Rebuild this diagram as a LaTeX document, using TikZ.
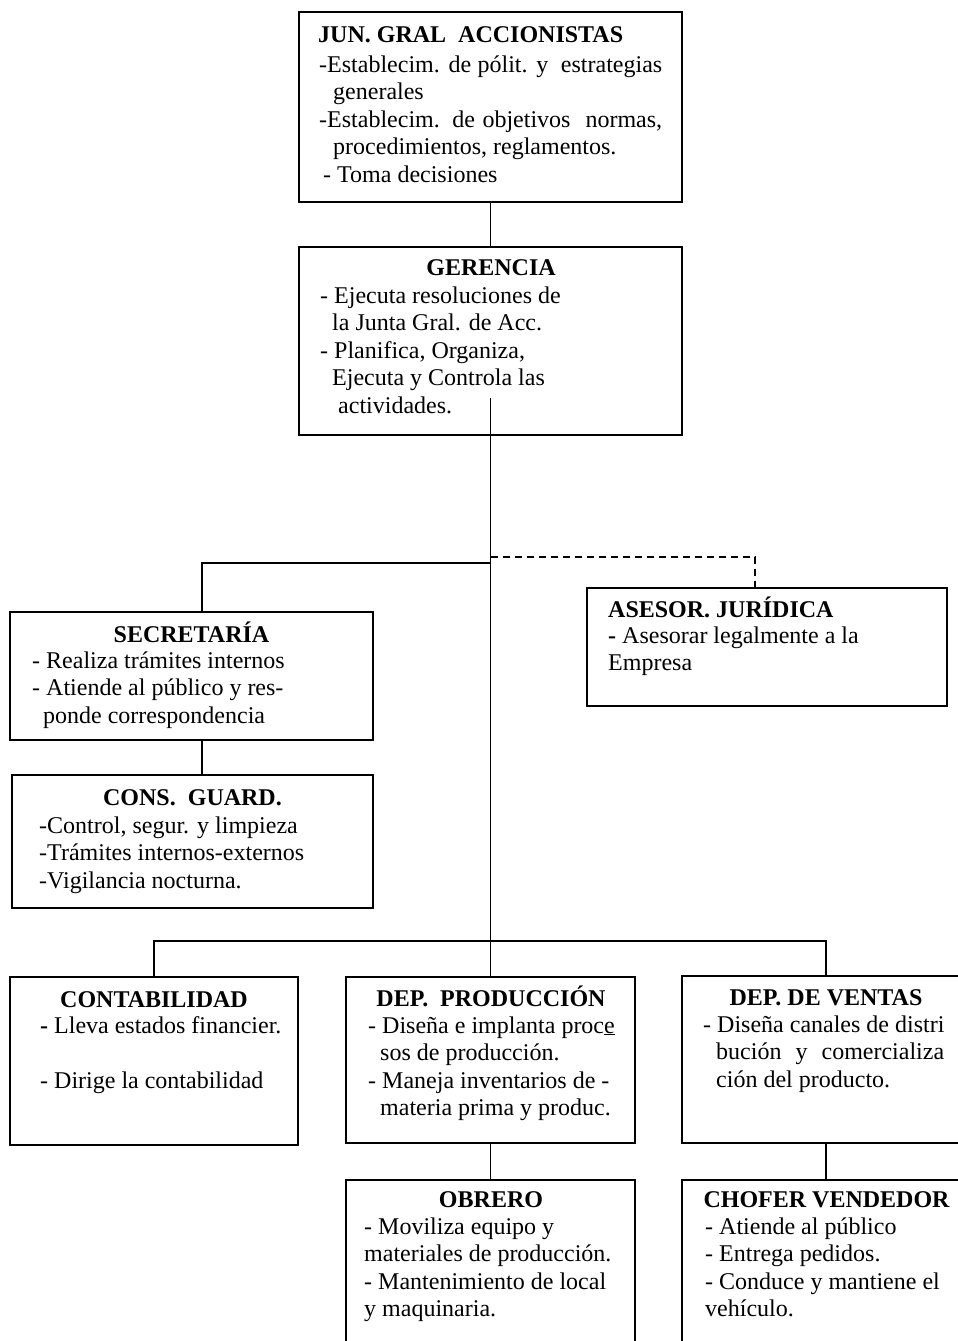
\documentclass[tikz,border=0pt]{standalone}
\usepackage{fontspec}
\setmainfont{Liberation Serif}
\begin{document}
\begin{tikzpicture}[x=1pt,y=-1pt,
  font=\fontsize{24}{27.5}\selectfont,
  box/.style={draw, line width=1.5pt, rectangle, inner sep=0pt, outer sep=0pt, anchor=north west},
  ttl/.style={font=\fontsize{24}{27.5}\selectfont\bfseries, inner sep=0pt, anchor=base},
  ttlw/.style={font=\fontsize{24}{27.5}\selectfont\bfseries, inner sep=0pt, anchor=base west},
  body/.style={inner sep=0pt, anchor=base west},
  conn/.style={line width=1.5pt},
  dashline/.style={line width=1.5pt, dash pattern=on 7pt off 5pt}]
\useasboundingbox (0,0) rectangle (958,1341);
\fill[white] (0,0) rectangle (958,1341);
\clip (0,0) rectangle (958,1341);

% boxes
\node[box, minimum width=383pt, minimum height=190pt] (jun) at (299,12) {};
\node[box, minimum width=383pt, minimum height=188pt] (ger) at (299,247) {};
\node[box, minimum width=363pt, minimum height=128pt] (sec) at (10,612) {};
\node[box, minimum width=361pt, minimum height=133pt] (cons) at (12,775) {};
\node[box, minimum width=360pt, minimum height=118pt] (ase) at (587,588) {};
\node[box, minimum width=288pt, minimum height=168pt] (cont) at (10,977) {};
\node[box, minimum width=289pt, minimum height=166pt] (prod) at (346,977) {};
\node[box, minimum width=288pt, minimum height=167pt] (ven) at (682,976) {};
\node[box, minimum width=289pt, minimum height=200pt] (obr) at (346,1180) {};
\node[box, minimum width=288pt, minimum height=200pt] (cho) at (682,1180) {};

% connectors
\coordinate (gstem) at (490.5,398);
\coordinate (sbar) at (490.5,563);
\coordinate (dbar) at (490.5,557);
\coordinate (bbar) at (490.5,941);
\draw[conn] (jun) -- (ger);
\draw[conn] (gstem) -- (prod.north);
\draw[conn] (sbar) -| ([xshift=10.5pt]sec.north);
\draw[conn] ([xshift=10.5pt]sec.south) -- ([xshift=9.5pt]cons.north);
\draw[dashline] (dbar) -| ([xshift=-12pt,yshift=-4pt]ase.north);
\draw[conn] (cont.north) |- (bbar) -| (ven.north);
\draw[conn] (prod.south) -- (obr.north);
\draw[conn] (ven.south) -- (cho.north);

% texts
\node[ttlw] (junT) at (318,42) {JUN. GRAL\ \ ACCIONISTAS};
\node[body] (junB) at (319,72) {\begin{tabular}[t]{@{}l@{}}
\makebox[343pt][s]{-Establecim. de pólit. y\ \ estrategias}\\
\hspace*{14pt}generales\\
\makebox[343pt][s]{-Establecim. de objetivos\ \ normas,}\\
\hspace*{14pt}procedimientos, reglamentos.\\
\hspace*{4pt}- Toma decisiones
\end{tabular}};

\node[ttl] (gerT) at (491,275) {GERENCIA};
\node[body] (gerB) at (320,303) {\begin{tabular}[t]{@{}l@{}}
- Ejecuta resoluciones de\\
\hspace*{12pt}la Junta Gral. de Acc.\\
- Planifica, Organiza,\\
\hspace*{12pt}Ejecuta y Controla las\\
\hspace*{18pt}actividades.
\end{tabular}};

\node[ttl] (secT) at (191.5,642) {SECRETARÍA};
\node[body] (secB) at (32,668) {\begin{tabular}[t]{@{}l@{}}
- Realiza trámites internos\\
- Atiende al público y res-\\
\hspace*{11pt}ponde correspondencia
\end{tabular}};

\node[ttl] (consT) at (192.5,805) {CONS.\ \ GUARD.};
\node[body] (consB) at (39,833) {\begin{tabular}[t]{@{}l@{}}
-Control, segur. y limpieza\\
-Trámites internos-externos\\
-Vigilancia nocturna.
\end{tabular}};

\node[ttlw] (aseT) at (608,617) {ASESOR. JURÍDICA};
\node[body] (aseB) at (608,643) {\begin{tabular}[t]{@{}l@{}}
\textbf{-} Asesorar legalmente a la\\
Empresa
\end{tabular}};

\node[ttl] (contT) at (154,1007) {CONTABILIDAD};
\node[body] (contB) at (40,1033) {\begin{tabular}[t]{@{}l@{}}
\textbf{-} Lleva estados financier.\\
\\
- Dirige la contabilidad
\end{tabular}};

\node[ttl] (prodT) at (491,1006) {DEP.\ \ PRODUCCIÓN};
\node[body] (prodB) at (368,1033) {\begin{tabular}[t]{@{}l@{}}
- Diseña e implanta proc\underline{e}\\
\hspace*{12pt}sos de producción.\\
- Maneja inventarios de -\\
\hspace*{12pt}materia prima y produc.
\end{tabular}};

\node[ttl] (venT) at (826,1005) {DEP. DE VENTAS};
\node[body] (venB) at (703,1032) {\begin{tabular}[t]{@{}l@{}}
- Diseña canales de distri\\
\hspace*{13pt}\makebox[228pt][s]{bución\ \ y\ \ comercializa}\\
\hspace*{13pt}ción del producto.
\end{tabular}};

\node[ttl] (obrT) at (491,1207) {OBRERO};
\node[body] (obrB) at (364,1234) {\begin{tabular}[t]{@{}l@{}}
- Moviliza equipo y\\
materiales de producción.\\
- Mantenimiento de local\\
y maquinaria.
\end{tabular}};

\node[ttl] (choT) at (826.5,1207) {CHOFER VENDEDOR};
\node[body] (choB) at (705,1234) {\begin{tabular}[t]{@{}l@{}}
- Atiende al público\\
- Entrega pedidos.\\
- Conduce y mantiene el\\
vehículo.
\end{tabular}};
\end{tikzpicture}
\end{document}
